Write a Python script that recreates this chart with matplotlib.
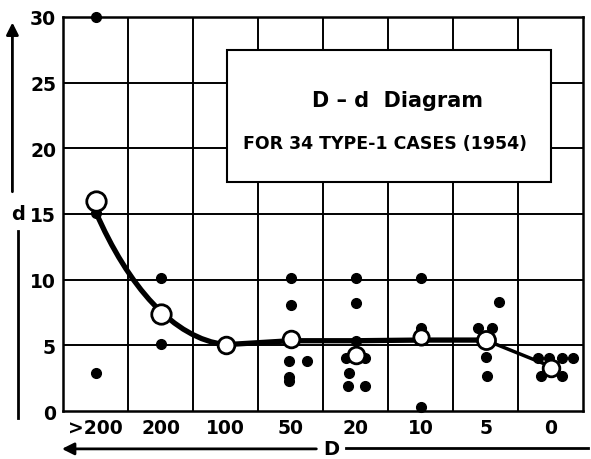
import numpy as np
import matplotlib.pyplot as plt
from matplotlib.path import Path
from matplotlib.patches import PathPatch, Rectangle

plt.rcParams['font.family'] = 'DejaVu Sans'
plt.rcParams['font.weight'] = 'bold'

# D classes (columns), left to right
d_classes = ['>200', '200', '100', '50', '20', '10', '5', '0']

# individual cases: column index and d value
case_col = [0, 0, 0,
            1, 1,
            2,
            3, 3, 3, 3, 3, 3,
            4, 4, 4, 4, 4, 4, 4, 4,
            5, 5, 5,
            6, 6, 6, 6, 6,
            7, 7, 7, 7, 7, 7]
case_dx = [0, 0, 0,
           0, 0,
           0,
           0, 0, -0.03, 0.25, -0.03, -0.03,
           0, 0, 0, -0.15, 0.15, -0.1, -0.12, 0.15,
           0, 0, 0,
           0.2, -0.12, 0.1, 0, 0.02,
           -0.2, -0.02, 0.18, 0.35, -0.15, 0.18]
case_d = [30, 15.1, 2.9,
          10.1, 5.1,
          5.0,
          10.1, 8.1, 3.8, 3.8, 2.6, 2.3,
          10.1, 8.2, 5.3, 4.0, 4.0, 2.9, 1.9, 1.9,
          10.1, 6.3, 0.3,
          8.3, 6.3, 6.3, 4.1, 2.7,
          4.0, 4.0, 4.0, 4.0, 2.7, 2.7]

# mean d per column (open circles)
mean_d = [16.0, 7.4, 5.0, 5.5, 4.3, 5.6, 5.4, 3.3]
mean_size = [14, 14, 12, 12, 12, 11, 13, 12]

# trend line control points (bezier from >200 to 100, then straight)
curve_x = [0.0, 0.5, 1.2, 2.0]
curve_y = [15.2, 9.5, 5.5, 5.05]
flat_x = [2.0, 3.0, 4.0, 5.0, 6.0]
flat_y = [5.05, 5.35, 5.35, 5.4, 5.4]
tail_x = [6.0, 6.4, 7.0]
tail_y = [5.4, 4.6, 3.4]

fig = plt.figure(figsize=(5.91, 4.60), dpi=100)
ax = fig.add_axes([0.1066, 0.1043, 0.880, 0.857])
ax.set_xlim(-0.5, 7.5)
ax.set_ylim(0, 30)

# grid
for xv in np.arange(0.5, 7.5, 1):
    ax.axvline(xv, color='black', lw=1.4, zorder=1)
for yv in [5, 10, 15, 20, 25]:
    ax.axhline(yv, color='black', lw=1.4, zorder=1)

for s in ax.spines.values():
    s.set_linewidth(1.8)

ax.set_xticks(range(len(d_classes)))
ax.set_xticklabels(d_classes, fontsize=13.5, fontweight='bold')
ax.set_yticks([0, 5, 10, 15, 20, 25, 30])
ax.set_yticklabels(['0', '5', '10', '15', '20', '25', '30'], fontsize=13.5, fontweight='bold')
ax.tick_params(length=0, pad=5)

# trend line
verts = list(zip(curve_x, curve_y))
path = Path(verts, [Path.MOVETO, Path.CURVE4, Path.CURVE4, Path.CURVE4])
ax.add_patch(PathPatch(path, facecolor='none', edgecolor='black', lw=3.8, zorder=3))
ax.plot(flat_x, flat_y, color='black', lw=3.8, zorder=3, solid_capstyle='round')
ax.plot(tail_x, tail_y, color='black', lw=2.5, zorder=3)

# cases
xs = np.array(case_col) + np.array(case_dx)
ax.plot(xs, case_d, 'o', color='black', ms=7, zorder=4, clip_on=False)

# means
for i, (m, sz) in enumerate(zip(mean_d, mean_size)):
    ax.plot(i, m, 'o', mfc='white', mec='black', mew=2, ms=sz, zorder=5)

# title box
ax.add_patch(Rectangle((0.316, 0.581), 0.623, 0.335, transform=ax.transAxes,
                       facecolor='white', edgecolor='black', lw=1.5, zorder=6))
ax.text(0.643, 0.79, 'D \u2013 d  Diagram', transform=ax.transAxes, ha='center', va='center',
        fontsize=15, fontweight='bold', zorder=7)
ax.text(0.62, 0.68, 'FOR 34 TYPE-1 CASES (1954)', transform=ax.transAxes, ha='center',
        va='center', fontsize=12.5, fontweight='bold', zorder=7)

# axis labels with arrows
fig.text(0.031, 0.533, 'd', ha='center', va='center', fontsize=14, fontweight='bold')
fig.add_artist(plt.Line2D([0.031, 0.031], [0.496, 0.090], color='black', lw=2))
ax.annotate('', xy=(0.021, 0.955), xycoords='figure fraction', xytext=(0.021, 0.575),
            textcoords='figure fraction',
            arrowprops=dict(arrowstyle='-|>', color='black', lw=2, mutation_scale=18))

fig.text(0.561, 0.022, 'D', ha='center', va='center', fontsize=14, fontweight='bold')
ax.annotate('', xy=(0.100, 0.022), xycoords='figure fraction', xytext=(0.540, 0.022),
            textcoords='figure fraction',
            arrowprops=dict(arrowstyle='-|>', color='black', lw=2, mutation_scale=18))
fig.add_artist(plt.Line2D([0.585, 0.995], [0.024, 0.024], color='black', lw=2))

fig.savefig('out.png', dpi=100)
